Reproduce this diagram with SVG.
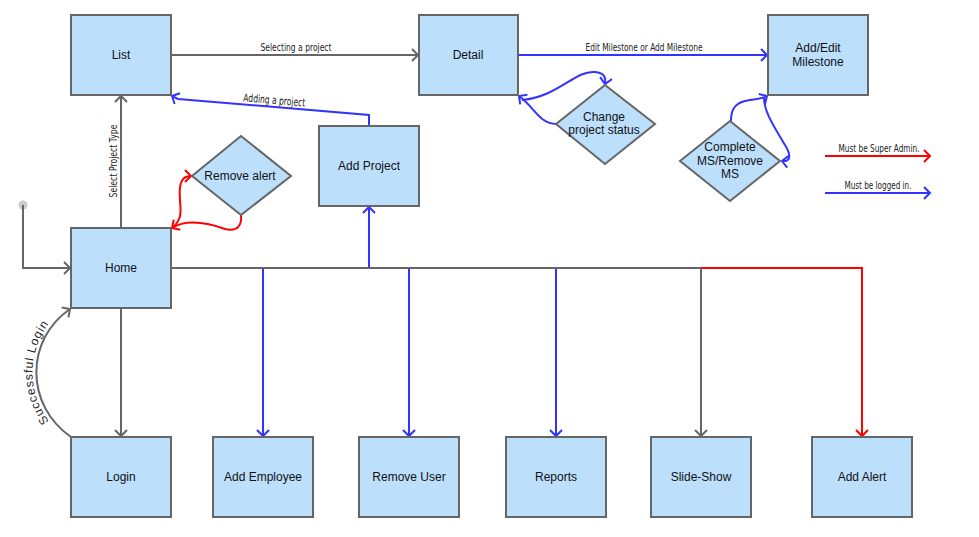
<svg xmlns="http://www.w3.org/2000/svg" width="979" height="537" viewBox="0 0 979 537">
<style>
.box{fill:#bcdffc;stroke:#666;stroke-width:2}
.nt{font-family:"Liberation Sans",Arial,sans-serif;font-size:12px;fill:#111;text-anchor:middle;dominant-baseline:central}
.lb{font-family:"Liberation Sans Narrow","DejaVu Sans Condensed","Liberation Sans",sans-serif;font-size:11px;fill:#222;text-anchor:middle}
.g{fill:none;stroke:#666;stroke-width:2}
.b{fill:none;stroke:#3333ff;stroke-width:2}
.r{fill:none;stroke:#ff0000;stroke-width:2}
</style>
<defs>
<marker id="ag" markerUnits="userSpaceOnUse" markerWidth="10" markerHeight="16" refX="6" refY="6" orient="auto" overflow="visible"><path d="M0,0 L6,6 L0,12" fill="none" stroke="#666" stroke-width="2"/></marker>
<marker id="ab" markerUnits="userSpaceOnUse" markerWidth="10" markerHeight="16" refX="6" refY="6" orient="auto" overflow="visible"><path d="M0,0 L6,6 L0,12" fill="none" stroke="#3333ff" stroke-width="2"/></marker>
<marker id="ar" markerUnits="userSpaceOnUse" markerWidth="10" markerHeight="16" refX="6" refY="6" orient="auto" overflow="visible"><path d="M0,0 L6,6 L0,12" fill="none" stroke="#ff0000" stroke-width="2"/></marker>
<path id="arcLogin" d="M71,437 C25,405 25,340 71,308"/>
</defs>
<rect width="979" height="537" fill="#fff"/>

<g id="connectors">
  <circle cx="23" cy="205" r="4.5" fill="#ccc"/>
  <path class="g" d="M23,205 V268 H70" marker-end="url(#ag)"/>
  <path class="g" d="M121,228 V96" marker-end="url(#ag)"/>
  <text class="lb" transform="translate(117,161) rotate(-90)" textLength="73" lengthAdjust="spacingAndGlyphs">Select Project Type</text>
  <path class="g" d="M171,55 H418" marker-end="url(#ag)"/>
  <text class="lb" x="296" y="51" textLength="71" lengthAdjust="spacingAndGlyphs">Selecting a project</text>
  <path class="b" d="M518,55 H767" marker-end="url(#ab)"/>
  <text class="lb" x="644" y="51" textLength="117" lengthAdjust="spacingAndGlyphs">Edit Milestone or Add Milestone</text>
  <path class="b" d="M369,126 V115 L178,99 L172,96" marker-end="url(#ab)"/>
  <text class="lb" transform="translate(274,104) rotate(4.8)" textLength="62" lengthAdjust="spacingAndGlyphs">Adding a project</text>
  <!-- Remove alert loops -->
  <path class="r" d="M172,228 C182,220 181,212 180,200 C179,186 180,176 191,176" marker-end="url(#ar)"/>
  <path class="r" d="M241,215 C242,225 238,232 225,229 C205,222 186,219 172,228" marker-end="url(#ar)"/>
  <!-- Change project status loops -->
  <path class="b" d="M556,124 C540,124 535,108 519,96" marker-end="url(#ab)"/>
  <path class="b" d="M522,100 C560,96 575,70 595,72 C605,73 606,78 605,84" marker-end="url(#ab)"/>
  <!-- Complete MS loops -->
  <path class="b" d="M731,121 C731,112 733,104 745,101 C755,99 762,99 767,96" marker-end="url(#ab)"/>
  <path class="b" d="M764,98 C764,112 775,128 785,145 C792,156 790,162 782,161" marker-end="url(#ab)"/>
  <!-- Home bus -->
  <path class="g" d="M171,268 H701"/>
  <path class="r" d="M701,268 H862 V436" marker-end="url(#ar)"/>
  <path class="g" d="M701,268 V436" marker-end="url(#ag)"/>
  <path class="b" d="M263,269 V436" marker-end="url(#ab)"/>
  <path class="b" d="M369,267 V207" marker-end="url(#ab)"/>
  <path class="b" d="M409,269 V436" marker-end="url(#ab)"/>
  <path class="b" d="M556,269 V436" marker-end="url(#ab)"/>
  <path class="g" d="M121,308 V436" marker-end="url(#ag)"/>
  <path class="g" d="M71,437 C25,405 25,340 70,309" marker-end="url(#ag)"/>
  <text font-family="Liberation Sans,Arial,sans-serif" font-size="12" fill="#222" letter-spacing="0.6" dy="-4"><textPath href="#arcLogin" startOffset="50%" text-anchor="middle">Successful Login</textPath></text>
  <!-- legend -->
  <path class="r" d="M825,156 H930" marker-end="url(#ar)"/>
  <text class="lb" x="879" y="152" textLength="81" lengthAdjust="spacingAndGlyphs">Must be Super Admin.</text>
  <path class="b" d="M825,193 H930" marker-end="url(#ab)"/>
  <text class="lb" x="878" y="189" textLength="67" lengthAdjust="spacingAndGlyphs">Must be logged in.</text>
</g>

<g id="list"><rect class="box" x="71" y="15" width="100" height="80"/><text class="nt" x="121" y="55">List</text></g>
<g id="detail"><rect class="box" x="419" y="15" width="99" height="80"/><text class="nt" x="468" y="55">Detail</text></g>
<g id="addEditMilestone"><rect class="box" x="768" y="15" width="100" height="80"/><text class="nt" x="818" y="48">Add/Edit</text><text class="nt" x="818" y="62">Milestone</text></g>
<g id="addProject"><rect class="box" x="319" y="126" width="100" height="80"/><text class="nt" x="369" y="166">Add Project</text></g>
<g id="home"><rect class="box" x="71" y="228" width="100" height="80"/><text class="nt" x="121" y="268">Home</text></g>
<g id="removeAlert"><polygon class="box" points="241,136 291,176 241,215 192,176"/><text class="nt" x="240" y="176">Remove alert</text></g>
<g id="changeStatus"><polygon class="box" points="605,85 655,124 605,164 556,124"/><text class="nt" x="604" y="117">Change</text><text class="nt" x="604" y="130">project status</text></g>
<g id="completeMS"><polygon class="box" points="730,121 780,161 730,201 680,161"/><text class="nt" x="730" y="147">Complete</text><text class="nt" x="730" y="161">MS/Remove</text><text class="nt" x="730" y="174">MS</text></g>
<g id="login"><rect class="box" x="71" y="437" width="100" height="80"/><text class="nt" x="121" y="477">Login</text></g>
<g id="addEmployee"><rect class="box" x="213" y="437" width="100" height="80"/><text class="nt" x="263" y="477">Add Employee</text></g>
<g id="removeUser"><rect class="box" x="359" y="437" width="100" height="80"/><text class="nt" x="409" y="477">Remove User</text></g>
<g id="reports"><rect class="box" x="506" y="437" width="100" height="80"/><text class="nt" x="556" y="477">Reports</text></g>
<g id="slideShow"><rect class="box" x="651" y="437" width="100" height="80"/><text class="nt" x="701" y="477">Slide-Show</text></g>
<g id="addAlert"><rect class="box" x="812" y="437" width="100" height="80"/><text class="nt" x="862" y="477">Add Alert</text></g>
</svg>
